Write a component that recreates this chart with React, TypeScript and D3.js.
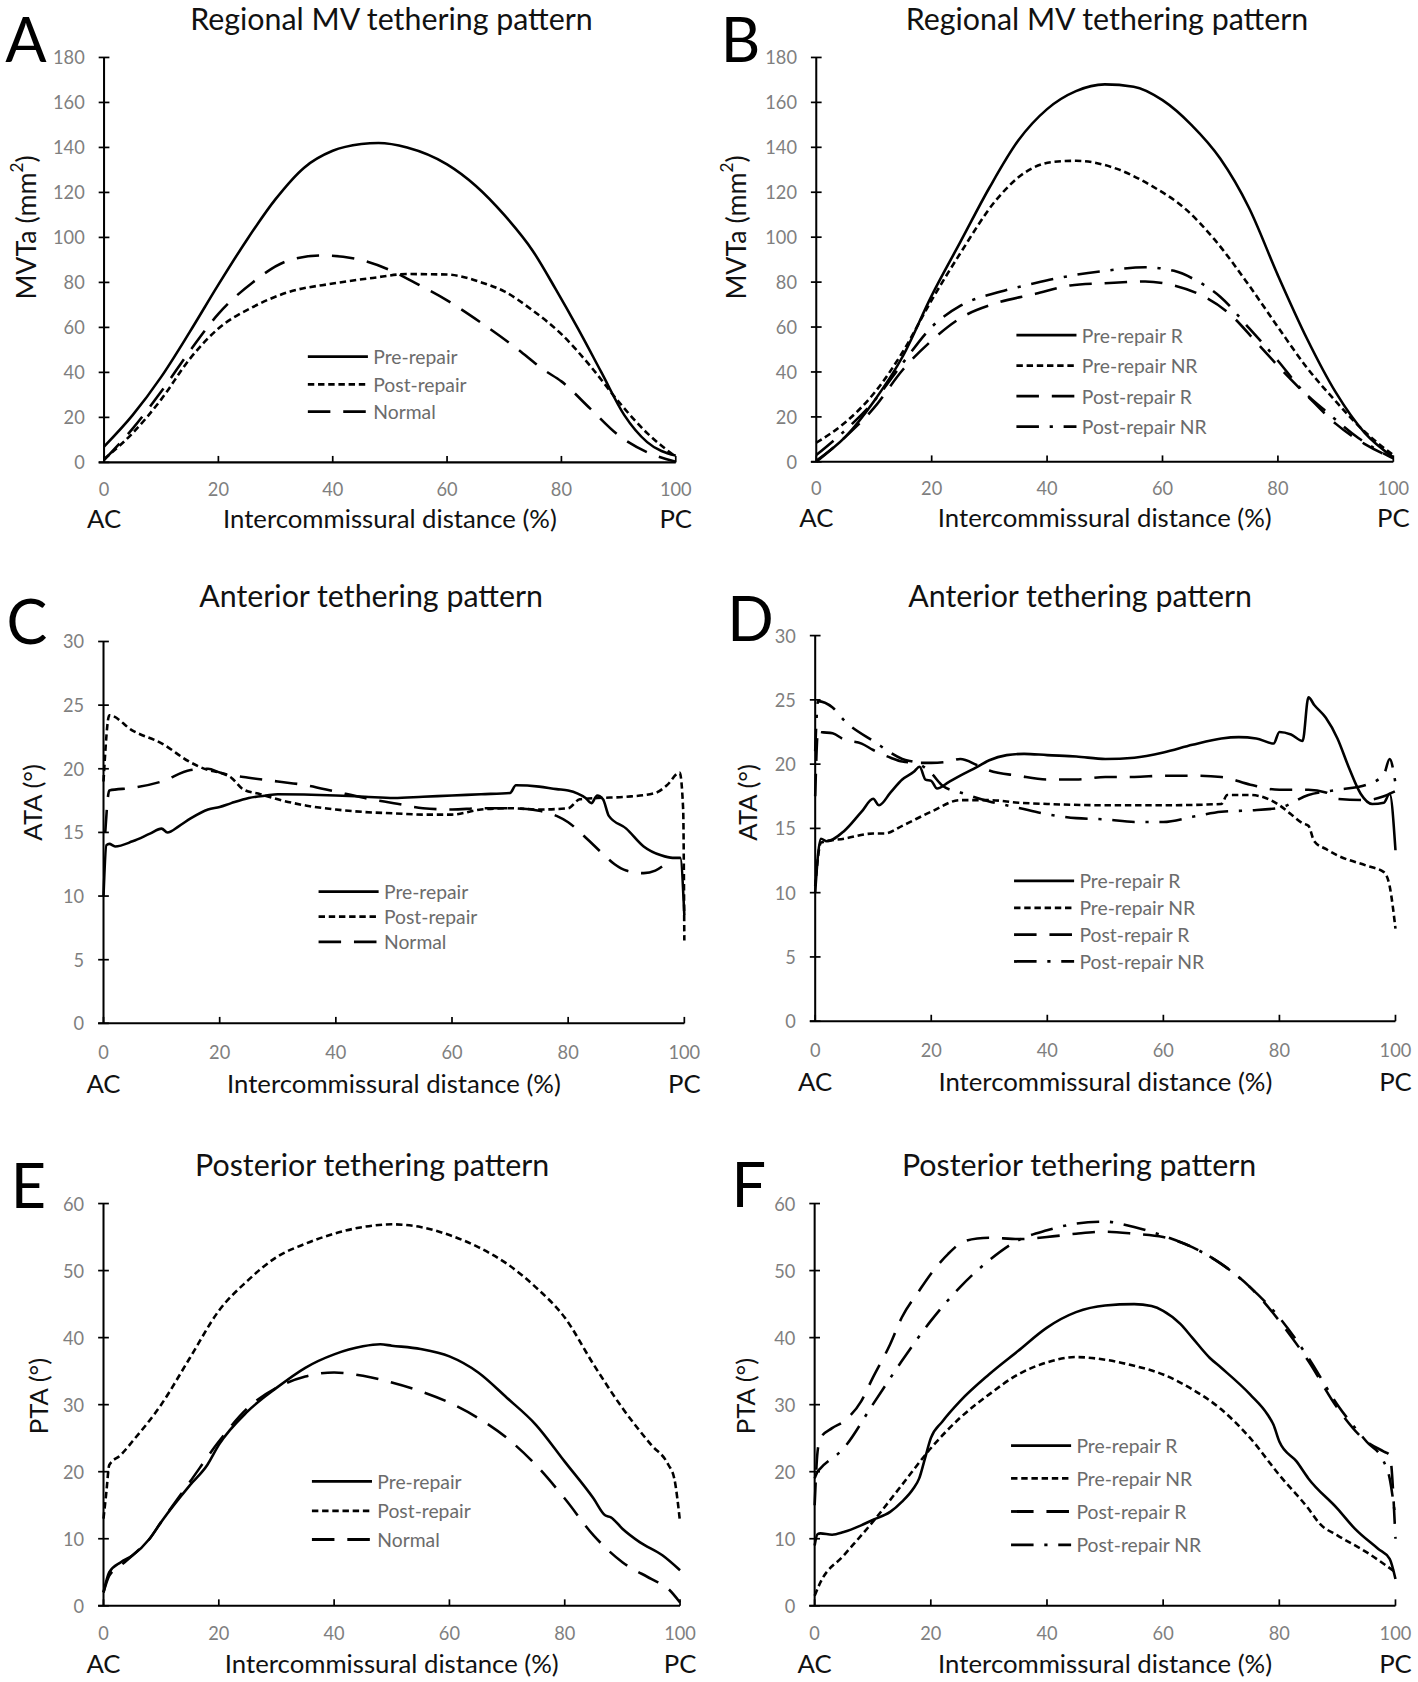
import React from 'react';
import * as d3 from 'd3';

type Pt = [number, number];

// x = intercommissural distance (%), y = measured value

// A: regional MV tethering area (mm²)
const aPre: Pt[] = [[0,7],[5,21],[10,38],[15,58],[20,79],[25,99],[30,117],[35,131],[40,138.5],[45,141.5],[48,142],[53,140],[60,132.5],[65,123],[70,110],[75,94],[79,77],[83,59],[87,40],[91,21],[95,9],[100,3]];
const aPost: Pt[] = [[0,1.5],[5,13],[10,28],[15,46],[20,59.5],[26,69],[32,75.5],[40,79.5],[47,82],[53,83.7],[60,83.5],[66,80],[70,76],[75,67.5],[80,57],[85,43],[90,27],[95,13],[100,2.5]];
const aNormal: Pt[] = [[0,1],[5,15],[10,31.5],[15,49.5],[20,66],[26,80],[32,89.5],[38,92],[44,90.5],[50,85.5],[55,79],[60,72],[66,62],[72,51],[77,41],[80,36],[85,24],[90,12],[95,4.5],[100,0.3]];

// B: regional MV tethering area by group
const bPreR: Pt[] = [[0,0.5],[5,11],[10,27],[15,47],[20,74],[25,98],[30,122],[35,143],[40,157],[45,165],[50,168],[55,167],[60,161],[65,150],[70,135],[75,113],[80,83],[85,55],[90,31],[95,13],[100,2]];
const bPreNR: Pt[] = [[0,8.5],[5,17.5],[10,30.5],[15,49],[20,72],[25,93],[31,116],[36,128.5],[41,133.5],[45,134],[52,130.5],[58,123],[64,112.5],[69,99],[75,78.5],[80,60],[85,42],[90,27],[95,13.5],[100,3]];
const bPostR: Pt[] = [[0,0],[5,11],[10,24],[15,41],[20,54],[25,64],[31,70.5],[38,74.8],[44,78.5],[50,79.5],[57,80.3],[62,78.5],[66,75],[72,65],[76,54],[81,40],[86,27],[90,17],[95,8],[100,1.5]];
const bPostNR: Pt[] = [[0,3],[5,14],[10,27],[15,44],[20,60],[25,69.5],[32,75.8],[38,79.6],[44,82.8],[50,85],[57,86.6],[62,85],[66,80.5],[70,73.5],[75,59.5],[80,45],[84,32.5],[89,21],[94,10.5],[100,1.5]];

// C: anterior tethering angle (°)
const cPre: Pt[] = [[0,10],[0.5,14],[1,14.1],[2,13.9],[5,14.3],[8,14.9],[10,15.3],[11,15],[13,15.5],[15,16.1],[18,16.8],[20,17],[22,17.3],[25,17.7],[28,17.9],[30,18],[40,17.9],[45,17.8],[50,17.7],[55,17.8],[60,17.9],[65,18],[70,18.1],[71,18.7],[75,18.6],[78,18.4],[80,18.3],[83,17.7],[84,17.3],[85,17.9],[86,17.6],[87,16.3],[90,15.3],[93,13.9],[96,13.2],[98,13],[99.3,13],[100,8.5]];
const cPost: Pt[] = [[0,19],[1,24.2],[5,23],[10,22],[15,20.5],[18,19.9],[20,19.7],[22,19.3],[24,18.4],[27,18],[30,17.6],[35,17.1],[40,16.8],[45,16.6],[50,16.5],[55,16.4],[60,16.4],[65,16.8],[70,16.9],[75,16.8],[80,16.9],[82,17.6],[85,17.7],[90,17.8],[95,18.1],[97,18.7],[99.2,19.7],[99.8,16.8],[100,6.5]];
const cNormal: Pt[] = [[0.3,15],[1,18.3],[5,18.5],[10,19],[15,19.9],[18,20],[20,19.7],[25,19.3],[30,19],[35,18.7],[40,18.2],[45,17.7],[50,17.3],[55,16.9],[60,16.8],[65,16.9],[70,16.9],[75,16.7],[78,16.3],[80,15.8],[83,14.6],[86,13.3],[88,12.5],[90,12],[93,11.8],[95,12],[97,12.6]];

// D: anterior tethering angle by group
const dPreR: Pt[] = [[0,10],[0.5,13],[1,14.2],[2,14],[5,14.8],[8,16.3],[10,17.3],[11,16.8],[13,17.8],[15,18.8],[17,19.4],[18,19.8],[19,18.8],[20,18.7],[21,18.1],[23,18.6],[25,19.1],[28,19.8],[30,20.3],[33,20.7],[36,20.8],[40,20.7],[45,20.6],[50,20.4],[55,20.5],[60,20.9],[65,21.5],[70,22],[73,22.1],[76,22],[79,21.6],[80,22.5],[82,22.3],[84,21.8],[85,25.2],[86,24.6],[88,23.6],[90,22],[92,19.7],[94,17.7],[96,16.9],[98,17],[99,17.7],[100,13.3]];
const dPreNR: Pt[] = [[0,10.5],[1,13.9],[5,14.2],[10,14.6],[12,14.6],[15,15.2],[20,16.3],[25,17.2],[30,17.2],[35,17],[40,16.9],[50,16.8],[60,16.8],[70,16.9],[71,17.6],[75,17.6],[78,17.3],[80,16.8],[82,16.1],[84,15.4],[85,15.2],[86,14],[88,13.4],[90,12.9],[95,12.1],[98,11.6],[99,10.5],[100,7.2]];
const dPostR: Pt[] = [[0,17.5],[0.5,22.7],[1,22.5],[3,22.4],[5,21.9],[8,21.6],[10,21.1],[13,20.5],[15,20.2],[18,20.1],[20,20.1],[23,20.2],[25,20.4],[28,19.9],[30,19.5],[35,19.1],[40,18.8],[45,18.8],[50,19],[55,19],[60,19.1],[65,19.1],[70,19],[75,18.4],[80,18],[85,18],[88,17.8],[90,17.3],[95,17.2],[98,17.5],[100,17.9]];
const dPostNR: Pt[] = [[0,21],[0.5,24.9],[3,24.4],[5,23.4],[10,21.8],[15,20.4],[18,20],[20,19.3],[22,18.3],[25,17.8],[30,17.1],[35,16.6],[40,16.1],[45,15.8],[50,15.7],[55,15.5],[60,15.5],[65,15.9],[70,16.3],[75,16.4],[80,16.6],[85,17.6],[90,18],[95,18.4],[98,19.2],[99,20.4],[100,18.5]];

// E: posterior tethering angle (°)
const ePre: Pt[] = [[0,2],[1,5],[3,6.5],[5,7.5],[8,10],[10,12.5],[15,18],[18,21],[20,24],[25,29],[30,32.5],[35,35.5],[40,37.5],[45,38.7],[48,39],[50,38.8],[55,38.3],[60,37.2],[65,34.8],[70,31],[75,27],[80,21.5],[85,16],[87,13.5],[88,13.2],[90,11.5],[93,9.5],[97,7.5],[100,5.3]];
const ePost: Pt[] = [[0,13],[0.5,17],[1,21],[3,22.5],[5,24.5],[10,30],[15,37],[20,44],[25,48.5],[30,52],[35,54],[40,55.5],[45,56.5],[50,56.9],[55,56.5],[60,55.3],[65,53.5],[70,51],[75,47.5],[80,43],[85,36],[90,29.5],[95,24],[98,21],[99,19],[100,12.5]];
const eNormal: Pt[] = [[0,2],[1,4.5],[3,6],[5,7.5],[8,10],[10,12.5],[15,18.5],[20,24.5],[25,29.5],[30,32.5],[35,34.2],[40,34.8],[45,34.3],[50,33.3],[55,32],[60,30.3],[65,28],[70,25],[75,21],[80,16],[85,10.5],[90,6.5],[95,4],[98,2.5],[100,0.5]];

// F: posterior tethering angle by group
const fPreR: Pt[] = [[0,9],[0.5,10.7],[1,10.8],[3,10.6],[5,11],[8,12],[10,12.8],[13,14],[15,15.5],[17,17.5],[18,19],[19,22],[20,25],[22,27.5],[25,30.5],[30,34.5],[35,38],[40,41.5],[45,43.8],[50,44.8],[55,45],[58,44.7],[60,44],[63,42],[65,40],[68,37],[70,35.5],[75,31.5],[78,28.5],[79,27],[80,24.5],[83,21.5],[85,19],[90,14.5],[93,11.5],[97,8.5],[99,7],[100,4]];
const fPreNR: Pt[] = [[0,1.5],[1,3.5],[5,7.5],[10,12.5],[15,18],[20,23.5],[25,28],[30,31.5],[35,34.5],[40,36.3],[45,37.1],[50,36.7],[55,35.8],[60,34.5],[65,32.3],[70,29.3],[75,25],[80,19.5],[85,14.5],[87,12.2],[90,10.5],[95,8],[100,5]];
const fPostR: Pt[] = [[0,15],[0.5,23],[1,25],[3,26.5],[5,27.5],[8,30.5],[10,34],[13,39],[15,43],[18,47],[20,49.5],[23,52.5],[25,54],[28,54.8],[30,54.9],[35,54.7],[40,55],[45,55.5],[50,55.8],[55,55.5],[60,55],[65,53.5],[70,51],[75,47.5],[80,42.5],[85,36.5],[90,29.5],[95,24.5],[98,23],[99,22.5],[100,10]];
const fPostNR: Pt[] = [[0,19],[0.5,20],[1,20.5],[5,23.5],[10,30],[15,36.5],[20,42.5],[25,47.5],[30,51.5],[35,54.5],[40,56],[45,57],[50,57.3],[55,56.5],[60,55.2],[65,53.5],[70,51],[75,47.5],[80,43],[85,37],[90,30],[95,24.5],[98,21.5],[99,19],[100,13]];

const xTicks = [0, 20, 40, 60, 80, 100];
const mvtaTicks = [0, 20, 40, 60, 80, 100, 120, 140, 160, 180];
const ataTicks = [0, 5, 10, 15, 20, 25, 30];
const ptaTicks = [0, 10, 20, 30, 40, 50, 60];

const namesThree = ['Pre-repair', 'Post-repair', 'Normal'];
const namesFour = ['Pre-repair R', 'Pre-repair NR', 'Post-repair R', 'Post-repair NR'];

const titleRegional = 'Regional MV tethering pattern';
const titleAnterior = 'Anterior tethering pattern';
const titlePosterior = 'Posterior tethering pattern';
const xTitle = 'Intercommissural distance (%)';

// ---- styling / layout (drawing units are a 1322x1568 canvas scaled to the page)
const FONT = "Lato, 'Open Sans', sans-serif";
const DASH: Record<string, string | undefined> = {
  solid: undefined,
  short: '6 3.5',
  long: '21 12',
  dashdot: '21 10 3 10',
};
const styles3 = ['solid', 'short', 'long'];
const styles4 = ['solid', 'short', 'long', 'dashdot'];

type PanelCfg = {
  letter: string;
  title: string;
  yLabel: 'mvta' | 'ata' | 'pta';
  yTicks: number[];
  series: Pt[][];
  names: string[];
  kinds: string[];
  x0: number; x1: number; yTop: number; yBot: number;
  titlePos: [number, number];
  letterPos: [number, number];
  yLabPos: [number, number];
  legX: number;
  legRows: number[];
  tickOff: number;
  acOff: number;
};

const panels: PanelCfg[] = [
  { letter: 'A', title: titleRegional, yLabel: 'mvta', yTicks: mvtaTicks, series: [aPre, aPost, aNormal], names: namesThree, kinds: styles3,
    x0: 97, x1: 630, yTop: 53.5, yBot: 431, titlePos: [365, 28], letterPos: [5, 58], yLabPos: [24, 212],
    legX: 287, legRows: [332.5, 358.2, 383.6], tickOff: 31, acOff: 61 },
  { letter: 'B', title: titleRegional, yLabel: 'mvta', yTicks: mvtaTicks, series: [bPreR, bPreNR, bPostR, bPostNR], names: namesFour, kinds: styles4,
    x0: 761, x1: 1299, yTop: 53.5, yBot: 430.5, titlePos: [1032, 28], letterPos: [672, 58], yLabPos: [686, 212],
    legX: 947.6, legRows: [312.4, 340.8, 369.2, 397.6], tickOff: 31, acOff: 61 },
  { letter: 'C', title: titleAnterior, yLabel: 'ata', yTicks: ataTicks, series: [cPre, cPost, cNormal], names: namesThree, kinds: styles3,
    x0: 96.5, x1: 638, yTop: 598, yBot: 954, titlePos: [346, 566], letterPos: [6, 600], yLabPos: [29.5, 748],
    legX: 297, legRows: [831.2, 854.6, 878], tickOff: 33, acOff: 65 },
  { letter: 'D', title: titleAnterior, yLabel: 'ata', yTicks: ataTicks, series: [dPreR, dPreNR, dPostR, dPostNR], names: namesFour, kinds: styles4,
    x0: 760, x1: 1301, yTop: 592.5, yBot: 952, titlePos: [1007, 566], letterPos: [678, 598], yLabPos: [696.6, 748],
    legX: 945.4, legRows: [821.2, 846.3, 871.3, 896.3], tickOff: 33, acOff: 65 },
  { letter: 'E', title: titlePosterior, yLabel: 'pta', yTicks: ptaTicks, series: [ePre, ePost, eNormal], names: namesThree, kinds: styles3,
    x0: 96.5, x1: 634, yTop: 1122, yBot: 1497, titlePos: [347, 1096], letterPos: [10, 1126], yLabPos: [35.8, 1301.5],
    legX: 290.8, legRows: [1381, 1408.5, 1435.2], tickOff: 32, acOff: 63 },
  { letter: 'F', title: titlePosterior, yLabel: 'pta', yTicks: ptaTicks, series: [fPreR, fPreNR, fPostR, fPostNR], names: namesFour, kinds: styles4,
    x0: 759.5, x1: 1301, yTop: 1122, yBot: 1497, titlePos: [1006, 1096], letterPos: [682, 1125], yLabPos: [694.6, 1301.5],
    legX: 942.6, legRows: [1347.6, 1378.3, 1409.1, 1440.2], tickOff: 32, acOff: 63 },
];

function YLabel({ kind }: { kind: string }) {
  if (kind === 'mvta') {
    return (
      <>
        MVTa (mm<tspan dy={-9} fontSize={16}>2</tspan><tspan dy={9}>)</tspan>
      </>
    );
  }
  return <>{kind === 'ata' ? 'ATA (°)' : 'PTA (°)'}</>;
}

function Panel({ p }: { p: PanelCfg }) {
  const yMax = p.yTicks[p.yTicks.length - 1];
  const x = d3.scaleLinear().domain([0, 100]).range([p.x0, p.x1]);
  const y = d3.scaleLinear().domain([0, yMax]).range([p.yBot, p.yTop]);
  const line = d3.line<Pt>().x(d => x(d[0])).y(d => y(d[1])).curve(d3.curveMonotoneX);
  const tickFill = '#7f7f7f';
  return (
    <g>
      <text x={p.titlePos[0]} y={p.titlePos[1]} textAnchor="middle" fontSize={28.3} fill="#111">{p.title}</text>
      <text x={p.letterPos[0]} y={p.letterPos[1]} fontSize={57} fill="#000">{p.letter}</text>
      <text transform={`translate(${p.yLabPos[0]},${p.yLabPos[1]}) rotate(-90)`} textAnchor="middle" dominantBaseline="central" fontSize={p.yLabel === 'mvta' ? 25 : 24} fill="#111">
        <YLabel kind={p.yLabel} />
      </text>

      {p.series.map((s, i) => (
        <path key={i} d={line(s) || ''} fill="none" stroke="#000" strokeWidth={2.4} strokeDasharray={DASH[p.kinds[i]]} />
      ))}

      {/* axes */}
      <line x1={p.x0} x2={p.x0} y1={y(yMax)} y2={p.yBot} stroke="#000" strokeWidth={1.9} />
      <line x1={p.x0 - 5} x2={p.x1} y1={p.yBot} y2={p.yBot} stroke="#000" strokeWidth={1.9} />
      {p.yTicks.map(t => (
        <g key={t}>
          <line x1={p.x0 - 5} x2={p.x0 + 5} y1={y(t)} y2={y(t)} stroke="#000" strokeWidth={1.6} />
          <text x={p.x0 - 18} y={y(t)} textAnchor="end" dominantBaseline="central" fontSize={17} fill={tickFill}>{t}</text>
        </g>
      ))}
      {xTicks.map(t => (
        <g key={t}>
          <line x1={x(t)} x2={x(t)} y1={p.yBot} y2={p.yBot - 6} stroke="#000" strokeWidth={1.6} />
          <text x={x(t)} y={p.yBot + p.tickOff} textAnchor="middle" fontSize={17} fill={tickFill}>{t}</text>
        </g>
      ))}
      <text x={x(0)} y={p.yBot + p.acOff} textAnchor="middle" fontSize={24} fill="#111">AC</text>
      <text x={x(100)} y={p.yBot + p.acOff} textAnchor="middle" fontSize={24} fill="#111">PC</text>
      <text x={(p.x0 + p.x1) / 2} y={p.yBot + p.acOff} textAnchor="middle" fontSize={24} fill="#111">{xTitle}</text>

      {/* legend */}
      {p.names.map((n, i) => (
        <g key={n}>
          <line x1={p.legX} x2={p.legX + 56} y1={p.legRows[i]} y2={p.legRows[i]} stroke="#000" strokeWidth={2.6} strokeDasharray={DASH[p.kinds[i]]} />
          <text x={p.legX + 61} y={p.legRows[i]} dominantBaseline="central" fontSize={18} fill="#6b6b6b">{n}</text>
        </g>
      ))}
    </g>
  );
}

export default function App() {
  return (
    <div style={{ position: 'absolute', left: 0, top: 0, background: '#fff' }}>
      <svg width={1418} height={1682} viewBox="0 0 1322 1568" fontFamily={FONT} style={{ display: 'block' }}>
        <rect width={1322} height={1568} fill="#fff" />
        {panels.map(p => <Panel key={p.letter} p={p} />)}
      </svg>
    </div>
  );
}
